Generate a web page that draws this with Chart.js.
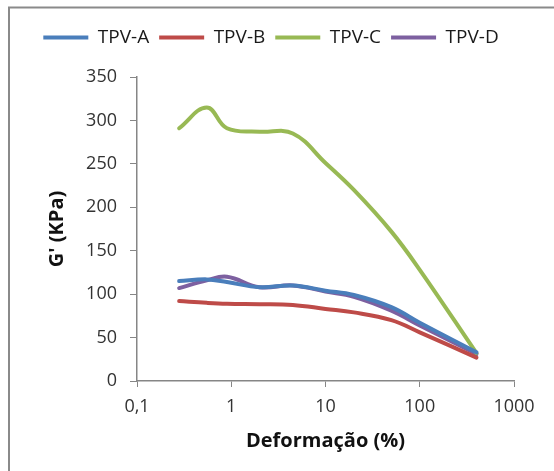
<!DOCTYPE html>
<html>
<head>
<meta charset="utf-8">
<script src="https://cdn.jsdelivr.net/npm/chart.js@4/dist/chart.umd.min.js"></script>
<style>
  html, body { margin: 0; padding: 0; background: #fff; }
  #wrap { width: 554px; height: 471px; }
</style>
</head>
<body>
<div id="wrap"><canvas id="modulo"></canvas></div>
<script>
// deformacao (%) e G' (KPa) por amostra
const deformacao = [0.28, 0.55, 0.9, 2.0, 4.5, 10, 20, 50, 100, 400];
const tpvA = [115, 117, 114, 108, 110, 104, 99, 85, 67, 33];
const tpvB = [92, 90, 89, 88.5, 87.5, 83, 79, 70, 56, 27];
const tpvC = [291, 315, 291, 287, 285, 251, 220, 172, 128, 32];
const tpvD = [107, 116, 120, 108, 110, 103, 97, 81, 64, 31];
const xTicks = [0.1, 1, 10, 100, 1000];
const yTicks = [0, 50, 100, 150, 200, 250, 300, 350];

const pts = vals => vals.map((v, i) => ({x: deformacao[i], y: v}));
const serie = (label, vals, cor) => ({
  label: label,
  data: pts(vals),
  borderColor: cor,
  backgroundColor: cor,
  borderWidth: 4,
  borderCapStyle: 'round',
  pointRadius: 0,
  tension: 0.4,
  fill: false
});

const fonte = 'Open Sans';
const cinza = '#868686';

// moldura cinza em volta do grafico
const moldura = {
  id: 'moldura',
  beforeDraw(chart) {
    const c = chart.ctx;
    c.save();
    c.fillStyle = '#fff';
    c.fillRect(0, 0, chart.width, chart.height);
    c.strokeStyle = '#8a8a8a';
    c.lineWidth = 2;
    c.strokeRect(9, 7.5, 700, 700);
    c.restore();
  }
};

new Chart(document.getElementById('modulo'), {
  type: 'line',
  data: {
    datasets: [
      serie('TPV-A', tpvA, '#4a7ebb'),
      serie('TPV-B', tpvB, '#be4b48'),
      serie('TPV-C', tpvC, '#98b954'),
      serie('TPV-D', tpvD, '#7d60a0')
    ]
  },
  options: {
    responsive: true,
    maintainAspectRatio: false,
    animation: false,
    layout: { padding: { left: 28, right: 40, top: 18, bottom: 0 } },
    plugins: {
      legend: {
        position: 'top',
        labels: {
          usePointStyle: true,
          pointStyle: 'line',
          pointStyleWidth: 45,
          padding: 10,
          color: '#1a1a1a',
          font: { family: fonte, size: 19 }
        }
      },
      tooltip: { enabled: false }
    },
    scales: {
      x: {
        type: 'logarithmic',
        min: 0.1,
        max: 1000,
        afterBuildTicks: s => { s.ticks = xTicks.map(v => ({value: v})); },
        afterFit: s => { s.height = 90; },
        grid: { display: true, drawOnChartArea: false, drawTicks: true, tickLength: 6, color: cinza },
        border: { display: true, color: cinza, width: 1.5 },
        ticks: {
          padding: 9,
          color: '#333',
          font: { family: fonte, size: 18 },
          callback: v => String(v).replace('.', ',')
        },
        title: {
          display: true,
          text: 'Deformação (%)',
          color: '#111',
          padding: { top: 0, bottom: 18 },
          font: { family: fonte, size: 20, weight: 'bold' }
        }
      },
      topo: {
        type: 'linear',
        position: 'top',
        axis: 'x',
        display: true,
        min: 0,
        max: 1,
        afterFit: s => { s.height = 20; },
        grid: { display: false },
        border: { display: false },
        ticks: { display: false }
      },
      y: {
        min: 0,
        max: 350,
        afterBuildTicks: s => { s.ticks = yTicks.map(v => ({value: v})); },
        afterFit: s => { s.width = 109; },
        grid: { display: true, drawOnChartArea: false, drawTicks: true, tickLength: 7, color: cinza },
        border: { display: true, color: cinza, width: 1.5 },
        ticks: {
          padding: 13,
          color: '#333',
          font: { family: fonte, size: 18 }
        },
        title: {
          display: true,
          text: "G' (KPa)",
          color: '#111',
          padding: { top: 17, bottom: 0 },
          font: { family: fonte, size: 20, weight: 'bold' }
        }
      }
    }
  },
  plugins: [moldura]
});
</script>
</body>
</html>
